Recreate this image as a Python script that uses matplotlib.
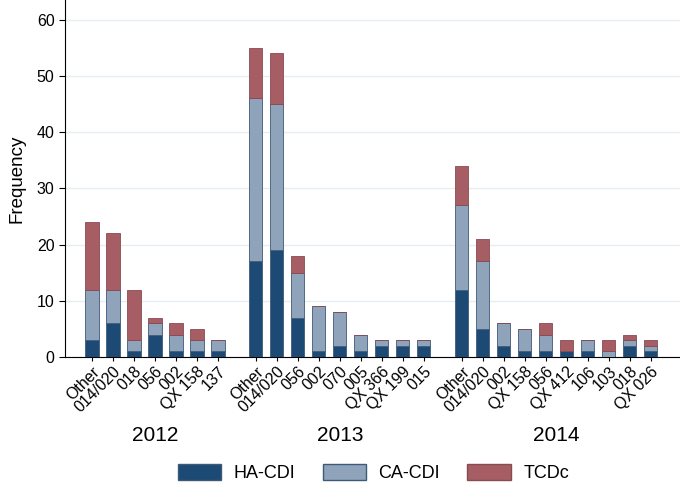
import numpy as np
from matplotlib import pyplot as plt
from matplotlib.patches import Patch

plt.rcParams['font.family'] = ['Liberation Sans', 'DejaVu Sans']

years = ['2012', '2013', '2014']
types_2012 = ['Other', '014/020', '018', '056', '002', 'QX 158', '137']
types_2013 = ['Other', '014/020', '056', '002', '070', '005', 'QX 366', 'QX 199', '015']
types_2014 = ['Other', '014/020', '002', 'QX 158', '056', 'QX 412', '106', '103', '018', 'QX 026']

ha_2012 = [3, 6, 1, 4, 1, 1, 1]
ca_2012 = [9, 6, 2, 2, 3, 2, 2]
tc_2012 = [12, 10, 9, 1, 2, 2, 0]

ha_2013 = [17, 19, 7, 1, 2, 1, 2, 2, 2]
ca_2013 = [29, 26, 8, 8, 6, 3, 1, 1, 1]
tc_2013 = [9, 9, 3, 0, 0, 0, 0, 0, 0]

ha_2014 = [12, 5, 2, 1, 1, 1, 1, 0, 2, 1]
ca_2014 = [15, 12, 4, 4, 3, 0, 2, 1, 1, 1]
tc_2014 = [7, 4, 0, 0, 2, 2, 0, 2, 1, 1]

c_ha = '#1c4a74'
c_ca = '#8fa4bb'
c_tc = '#a75d64'
edge = '#3d5a78'

fig = plt.figure(figsize=(6.8, 4.82), dpi=100)
ax = fig.add_axes([0.0956, 0.2593, 0.9044, 0.7407])

groups = [(types_2012, ha_2012, ca_2012, tc_2012),
          (types_2013, ha_2013, ca_2013, tc_2013),
          (types_2014, ha_2014, ca_2014, tc_2014)]

gap = 1.8
start = 0.0
all_pos, all_labels, centers = [], [], []
for labels, ha, ca, tc in groups:
    pos = start + np.arange(len(labels))
    ha = np.array(ha); ca = np.array(ca); tc = np.array(tc)
    ax.bar(pos, ha, width=0.63, color=c_ha, edgecolor=edge, linewidth=0.6, zorder=3)
    ax.bar(pos, ca, width=0.63, bottom=ha, color=c_ca, edgecolor=edge, linewidth=0.6, zorder=3)
    ax.bar(pos, tc, width=0.63, bottom=ha + ca, color=c_tc, edgecolor='#8a4a52', linewidth=0.6, zorder=3)
    all_pos.extend(pos)
    all_labels.extend(labels)
    centers.append(pos.mean())
    start = pos[-1] + gap

ax.set_xlim(-1.29, 28.0)
ax.set_ylim(0, 63.5)
ax.set_yticks(range(0, 61, 10))
ax.set_xticks(all_pos)
ax.set_xticklabels(all_labels, rotation=45, ha='right', rotation_mode='anchor', fontsize=11.5)
ax.tick_params(axis='y', labelsize=11.5, length=4, direction='out')
ax.tick_params(axis='x', length=3, pad=2)
ax.grid(axis='y', color='#e6edf1', linewidth=1, zorder=0)
for s in ['top', 'right']:
    ax.spines[s].set_visible(False)
ax.set_ylabel('Frequency', fontsize=13.5, labelpad=8)

for c, y in zip(centers, years):
    ax.text(c, -13.9, y, ha='center', va='center', fontsize=15)

handles = [Patch(facecolor=c_ha, edgecolor=edge, label='HA-CDI'),
           Patch(facecolor=c_ca, edgecolor=edge, label='CA-CDI'),
           Patch(facecolor=c_tc, edgecolor='#8a4a52', label='TCDc')]
fig.legend(handles=handles, loc='center', bbox_to_anchor=(0.549, 0.019), ncol=3, frameon=False,
           fontsize=13, handlelength=2.4, handleheight=1.05, handletextpad=0.7,
           columnspacing=1.5, borderpad=0)

fig.savefig('out.png', dpi=100)
